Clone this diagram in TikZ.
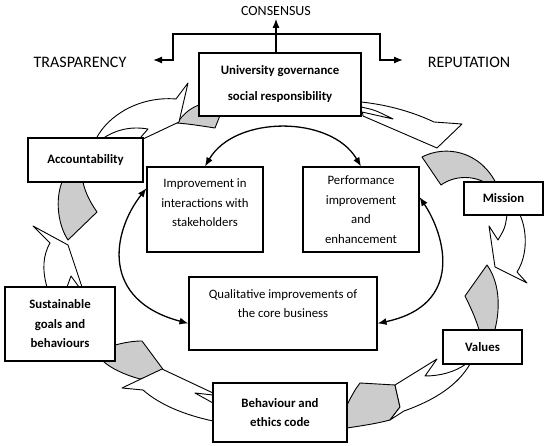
\documentclass[tikz,border=0pt]{standalone}
\usepackage{fontspec}
\setmainfont{Carlito}
\usetikzlibrary{arrows.meta}
\tikzset{kasten/.style={rectangle,draw,line width=1.1pt,fill=white,align=center,inner sep=0pt,font=\fontsize{12.8}{19.5}\selectfont},
	fett/.style={kasten,font=\fontsize{12.8}{19.5}\selectfont\bfseries},
	band/.style={draw,line width=0.9pt,fill=white,line join=round},
	schatten/.style={band,fill=gray!40},
	spitze/.style={-{Latex[length=9pt,width=7pt]}},
	pfeil/.style={line width=1.3pt,{Latex[length=9pt,width=7pt]}-{Latex[length=9pt,width=7pt]}},
	titel/.style={inner sep=0pt,font=\fontsize{16}{16}\selectfont} }

\begin{document}
\begin{tikzpicture}[x=1pt,y=-1pt]
	\useasboundingbox (0,0) rectangle (550,446);

	% Ring
	\draw [schatten] (177,123) .. controls (185,112) and (192,107) .. (202,104) -- (223,108) -- (215,128) .. controls (202,126) and (190,124) .. (177,123) -- cycle;
	\draw [schatten] (422,157) .. controls (445,145) and (480,150) .. (497,185) -- (489,185) .. controls (475,175) and (455,175) .. (441,185) -- cycle;
	\draw [schatten] (487,265) -- (465,296) .. controls (472,310) and (477,322) .. (480,333) -- (494,333) .. controls (502,305) and (498,280) .. (487,265) -- cycle;
	\draw [schatten] (347,405) .. controls (352,395) and (356,388) .. (360,383) -- (395,385) -- (400,407) -- (390,420) .. controls (375,424) and (360,426) .. (347,428) -- cycle;
	\draw [schatten] (112,346) .. controls (125,342) and (135,341) .. (142,341) -- (165,372) -- (140,379) .. controls (125,375) and (110,368) .. (103,361) -- cycle;
	\draw [schatten] (62,182) .. controls (55,200) and (58,225) .. (68,240) -- (97,212) .. controls (90,202) and (85,192) .. (83,182) -- cycle;

	\draw [band] (96,139) .. controls (108,115) and (140,96) .. (176,99) -- (188,83) -- (179,122) -- (143,139) -- cycle;
	\draw [band] (102,139) .. controls (115,130) and (130,126) .. (148,129) -- (141,137);
	\draw [band] (361,102) .. controls (390,105) and (415,113) .. (434,122) -- (462,124) -- (437,148) -- (363,116) -- cycle;
	\draw [band] (361,107) .. controls (375,110) .. (393,119) -- (362,112);
	\draw [band] (507,215) .. controls (505,228) .. (498,240) -- (489,226) -- (495,267) -- (527,283) -- (517,272) .. controls (528,255) and (527,230) .. (520,215) -- cycle;
	\draw [band] (395,385) -- (400,407) -- (390,420) -- (404,411) .. controls (435,400) and (458,385) .. (470,364) -- (466,364) .. controls (455,372) and (440,376) .. (425,376) -- (437,359) -- cycle;
	\draw [band] (162,369) -- (213,393) -- (213,421) .. controls (185,415) and (160,405) .. (143,390) -- (122,388) -- cycle;
	\draw [band] (213,395) -- (195,393) -- (213,403);
	\draw [band] (47,287) .. controls (42,270) and (43,255) .. (50,243) -- (33,226) -- (68,245) -- (82,287) -- cycle;
	\draw [band] (67,287) -- (71,276) -- (79,287);

	% Kaesten
	\node (univ) [fett, minimum width=162pt, minimum height=63pt, font=\fontsize{12.8}{26}\selectfont\bfseries] at (280,84.5) {University governance\\social responsibility};
	\node (acc) [fett, minimum width=115pt, minimum height=44pt] at (85.5,160) {Accountability};
	\node (mis) [fett, minimum width=79pt, minimum height=33pt] at (503.5,198.5) {Mission};
	\node (val) [fett, minimum width=79pt, minimum height=34pt] at (482.5,347) {Values};
	\node (beh) [fett, minimum width=134pt, minimum height=59pt] at (280,412.5) {Behaviour and\\ethics code};
	\node (sust) [fett, minimum width=110pt, minimum height=74pt] at (60,324) {Sustainable\\goals and\\behaviours};
	\node (impr) [kasten, minimum width=116pt, minimum height=85pt] at (205,209.5) {Improvement in\\interactions with\\stakeholders\\[-6pt] \mbox{}};
	\node (perf) [kasten, minimum width=116pt, minimum height=85pt] at (361,209.5) {Performance\\improvement\\and\\enhancement};
	\node (qual) [kasten, minimum width=188pt, minimum height=73pt] at (283,313.5) {Qualitative improvements of\\the core business\\ \mbox{}};

	\node (kons) [titel, font=\fontsize{14}{14}\selectfont] at (276,11) {CONSENSUS};
	\node (trans) [titel] at (80,62) {TRASPARENCY};
	\node (rep) [titel] at (469,62) {REPUTATION};

	\coordinate (lk) at (173,34);
	\coordinate (rk) at (380,34);
	\coordinate (lp) at (153,60);
	\coordinate (rp) at (403,60);
	\draw [pfeil] (lp) -| (lk) -- (rk) |- (rp);
	\draw [line width=1.3pt, spitze] (univ.north -| kons.south) -- ([yshift=-3pt]kons.south);

	\draw [pfeil] (impr.north) .. controls (235,115) and (331,115) .. (perf.north);
	\draw [pfeil] (impr.160) .. controls (112,232) and (100,300) .. (qual.186);
	\draw [pfeil] (perf.12) .. controls (445,235) and (465,305) .. (qual.354);
\end{tikzpicture}
\end{document}
